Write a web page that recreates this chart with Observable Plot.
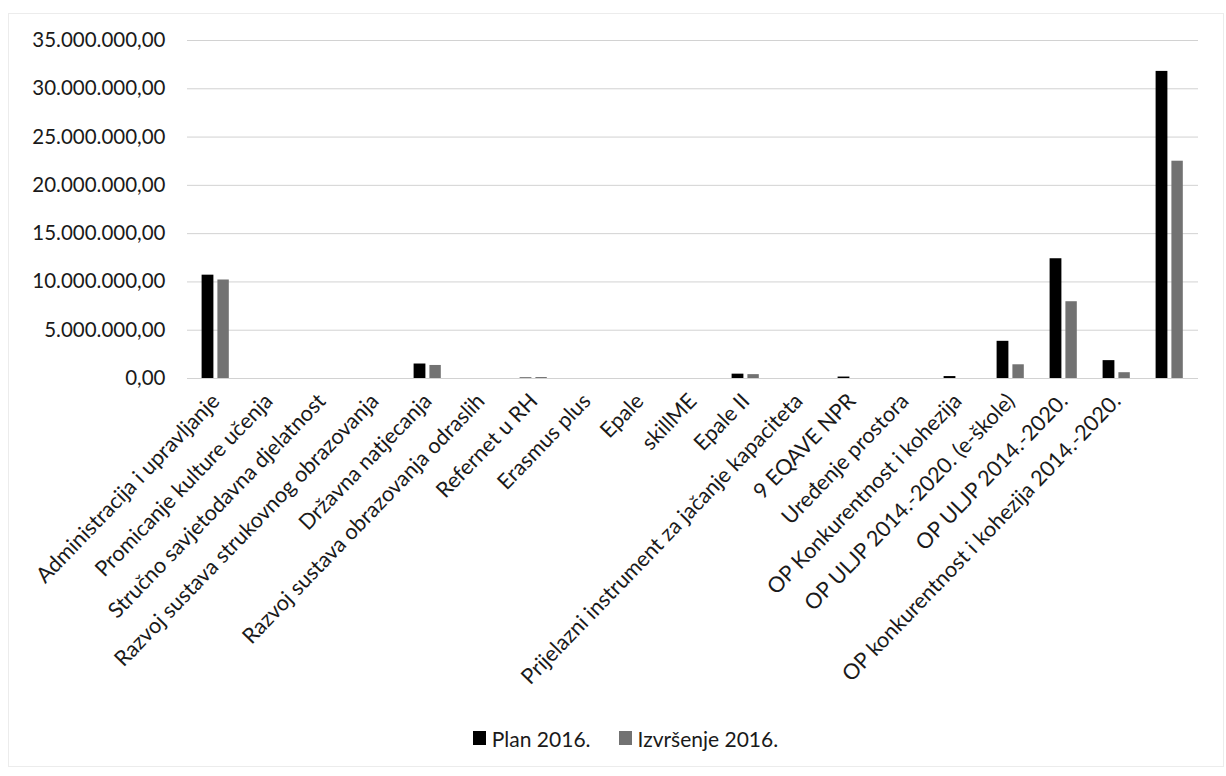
<!DOCTYPE html>
<html>
<head>
<meta charset="utf-8">
<script src="https://cdn.jsdelivr.net/npm/d3@7"></script>
<script src="https://cdn.jsdelivr.net/npm/@observablehq/plot@0.6"></script>
<style>
  html, body { margin: 0; padding: 0; background: #fff; }
  body { width: 1226px; height: 776px; position: relative; overflow: hidden; font-family: Lato, "Open Sans", sans-serif; }
  #frame { position: absolute; left: 8px; top: 13px; width: 1216px; height: 754px; border: 1px solid #ececec; box-sizing: border-box; pointer-events: none; }
  #chart { position: absolute; left: 0; top: 0; }
  #legend { position: absolute; left: 0; top: 700px; width: 1226px; height: 76px; display: flex; justify-content: center; align-items: center; font-size: 21px; color: #1a1a1a; box-sizing: border-box; padding-left: 25px; }
  .item { display: flex; align-items: center; margin: 0 14px; }
  .sw { width: 13px; height: 14px; display: inline-block; margin-right: 6px; }
</style>
</head>
<body>
<div id="frame"></div>
<div id="chart"></div>
<div id="legend"></div>
<script>
// ---- data ----
const categories = [
  "Administracija i upravljanje",
  "Promicanje kulture učenja",
  "Stručno savjetodavna djelatnost",
  "Razvoj sustava strukovnog obrazovanja",
  "Državna natjecanja",
  "Razvoj sustava obrazovanja odraslih",
  "Refernet u RH",
  "Erasmus plus",
  "Epale",
  "skillME",
  "Epale II",
  "Prijelazni instrument za jačanje kapaciteta",
  "9 EQAVE NPR",
  "Uređenje prostora",
  "OP Konkurentnost i kohezija",
  "OP ULJP 2014.-2020. (e-škole)",
  "OP ULJP 2014.-2020.",
  "OP konkurentnost i kohezija 2014.-2020.",
  ""
];
const plan2016 = [10700000, 0, 0, 0, 1500000, 0, 50000, 0, 0, 0, 450000, 0, 150000, 0, 200000, 3850000, 12400000, 1850000, 31800000];
const izvrsenje2016 = [10200000, 0, 0, 0, 1350000, 0, 100000, 0, 0, 0, 400000, 0, 0, 0, 0, 1420000, 7950000, 600000, 22500000];
const seriesNames = ["Plan 2016.", "Izvršenje 2016."];
const seriesColors = ["#000000", "#727272"];
const yTicks = [0, 5000000, 10000000, 15000000, 20000000, 25000000, 30000000, 35000000];

// ---- build ----
const hr = d3.formatLocale({decimal: ",", thousands: ".", grouping: [3], currency: ["", ""]});
const fmt = hr.format(",.2f");

const planData = categories.map((c, i) => ({cat: c, value: plan2016[i]}));
const izvData = categories.map((c, i) => ({cat: c, value: izvrsenje2016[i]}));

const chart = Plot.plot({
  width: 1226,
  height: 700,
  marginLeft: 187,
  marginRight: 28,
  marginTop: 40,
  marginBottom: 322,
  style: {fontFamily: "Lato, 'Open Sans', sans-serif", background: "transparent"},
  x: {domain: categories, padding: 0, axis: null},
  y: {domain: [0, 35000000], axis: null},
  marks: [
    Plot.gridY(yTicks, {stroke: "#d2d2d2", strokeOpacity: 1, strokeWidth: 1}),
    Plot.barY(planData, {x: "cat", y: "value", fill: seriesColors[0], insetLeft: 12.6, insetRight: 28.6}),
    Plot.barY(izvData, {x: "cat", y: "value", fill: seriesColors[1], insetLeft: 28.4, insetRight: 13.2}),
    Plot.axisY(yTicks, {tickSize: 0, tickPadding: 22, tickFormat: fmt, fontSize: 20.5, fill: "#1a1a1a", label: null}),
    Plot.axisX({tickSize: 0, tickPadding: 19, tickRotate: -46, fontSize: 21.6, fill: "#1a1a1a", label: null})
  ]
});
document.getElementById("chart").appendChild(chart);

// legend
const legend = document.getElementById("legend");
seriesNames.forEach((name, i) => {
  const it = document.createElement("div");
  it.className = "item";
  const sw = document.createElement("span");
  sw.className = "sw";
  sw.style.background = seriesColors[i];
  const tx = document.createElement("span");
  tx.textContent = name;
  it.appendChild(sw); it.appendChild(tx);
  legend.appendChild(it);
});
</script>
</body>
</html>
